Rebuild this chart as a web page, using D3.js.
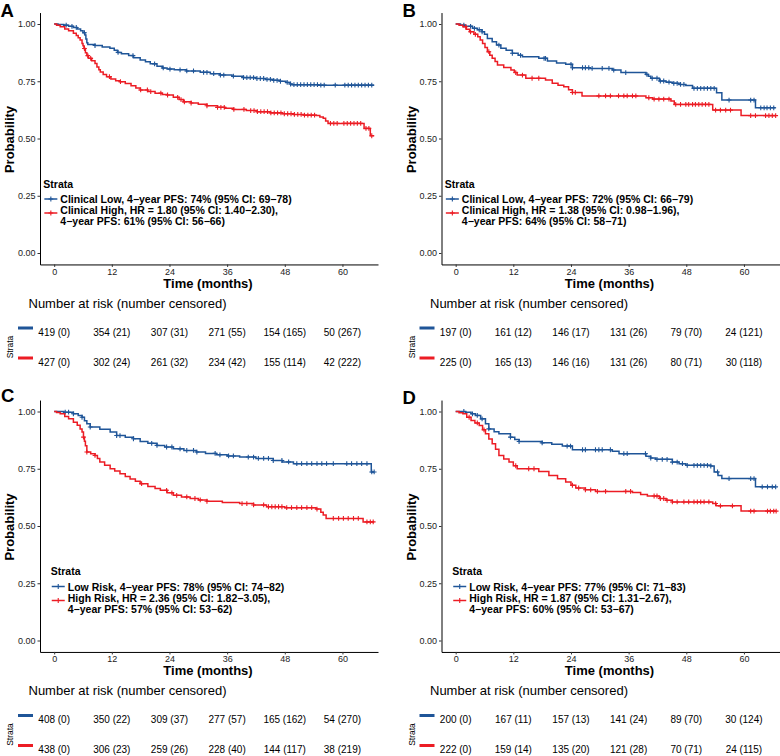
<!DOCTYPE html>
<html><head><meta charset="utf-8">
<script src="https://cdn.jsdelivr.net/npm/d3@7"></script>
<style>
body{margin:0;background:#fff;}
svg{display:block;font-family:"Liberation Sans",Arial,sans-serif;}
</style></head><body>
<svg id="chart" width="780" height="756"></svg>
<script>
const timeBreaks=[0,12,24,36,48,60];
const probBreaks=[0,0.25,0.5,0.75,1];
const panelLetters=["A","B","C","D"];

// ---- Panel A ----
const blueA=[[0,1],[0.8,0.998],[2.0,0.995],[3.0,0.99],[4.0,0.985],[4.8,0.978],[5.5,0.97],[6.0,0.962],[6.4,0.952],[6.6,0.935],[6.8,0.918],[7.0,0.91],[8.5,0.906],[10.0,0.9],[11.6,0.894],[12.5,0.885],[13.2,0.876],[14.0,0.87],[15.5,0.862],[16.5,0.853],[17.9,0.843],[19.0,0.835],[20.0,0.826],[21.4,0.815],[22.5,0.808],[23.5,0.803],[25.0,0.8],[27.5,0.795],[30.4,0.789],[32.5,0.783],[34.5,0.777],[37.0,0.772],[39.4,0.766],[42.0,0.762],[44.0,0.758],[45.6,0.754],[47.0,0.75],[48.2,0.745],[49.1,0.738],[49.5,0.735],[55.0,0.733],[66.6,0.733]];
const redA=[[0,1],[0.5,0.995],[1.25,0.988],[2.2,0.978],[3.0,0.97],[4.0,0.96],[4.6,0.95],[5.0,0.94],[5.4,0.93],[5.8,0.915],[6.0,0.905],[6.2,0.893],[6.5,0.875],[6.8,0.862],[7.1,0.85],[7.8,0.84],[8.5,0.828],[8.9,0.812],[9.3,0.8],[9.6,0.79],[10.2,0.78],[10.9,0.77],[11.8,0.76],[12.8,0.752],[13.7,0.748],[14.8,0.74],[16.0,0.73],[17.0,0.72],[17.9,0.712],[19.5,0.705],[21.0,0.698],[22.5,0.692],[23.5,0.69],[24.8,0.68],[26.0,0.67],[26.9,0.66],[28.5,0.655],[30.0,0.65],[31.8,0.643],[34.0,0.636],[35.5,0.632],[37.3,0.627],[40.0,0.622],[42.2,0.617],[45.0,0.612],[47.5,0.608],[49.8,0.605],[52.0,0.602],[54.6,0.6],[55.3,0.594],[56.0,0.588],[56.5,0.576],[57.0,0.566],[64.5,0.544],[65.8,0.512],[66.6,0.512]];
const censorBlueA=[2.5,3.7,4.6,6.3,8.5,13.3,16.4,20.9,22.7,24.1,26.2,27.6,29.0,31.1,31.8,33.2,34.6,35.3,37.3,39.4,40.1,40.8,41.5,42.2,42.9,43.6,44.3,45.0,45.7,46.4,47.1,48.5,49.2,49.9,50.6,51.3,52.0,52.7,53.4,54.1,54.8,55.5,56.2,58.5,60.5,61.2,61.9,62.6,63.3,64.0,64.7,65.4,66.1];
const censorRedA=[6.3,7.0,7.6,11.5,13.8,18.0,19.4,20.1,22.2,23.6,25.7,26.4,27.1,28.5,31.8,34.0,34.7,35.4,37.4,39.5,40.9,41.6,42.3,43.0,43.7,44.4,45.1,45.8,46.5,47.2,47.9,48.6,49.3,50.0,50.7,51.4,52.1,52.8,53.5,54.2,57.5,58.2,58.9,60.3,61.0,61.7,62.4,63.1,63.8,64.9,65.5,66.1];
const riskBlueA=["419 (0)","354 (21)","307 (31)","271 (55)","154 (165)","50 (267)"];
const riskRedA=["427 (0)","302 (24)","261 (32)","234 (42)","155 (114)","42 (222)"];
const legendA=[["Clinical Low, 4−year PFS: 74% (95% CI: 69−78)"],["Clinical High, HR = 1.80 (95% CI: 1.40−2.30),","4−year PFS: 61% (95% CI: 56−66)"]];

// ---- Panel B ----
const blueB=[[0,1],[1.0,0.995],[2.1,0.99],[3.5,0.981],[4.5,0.975],[5.5,0.966],[6.0,0.955],[6.6,0.937],[7.6,0.923],[8.5,0.908],[9.4,0.894],[10.5,0.885],[11.8,0.872],[13.0,0.863],[13.9,0.857],[17.3,0.85],[19.1,0.838],[21.0,0.83],[22.9,0.824],[24.3,0.809],[28.0,0.806],[32.6,0.799],[34.4,0.788],[39.6,0.78],[40.1,0.772],[40.6,0.763],[42.4,0.751],[43.8,0.746],[45.1,0.741],[46.5,0.736],[47.9,0.731],[49.3,0.719],[54.3,0.7],[55.4,0.668],[62.4,0.634],[66.6,0.634]];
const redB=[[0,1],[0.7,0.995],[1.5,0.988],[2.2,0.977],[2.9,0.966],[3.8,0.955],[4.6,0.944],[5.1,0.93],[5.6,0.915],[6.1,0.897],[6.6,0.879],[7.1,0.864],[7.6,0.85],[8.2,0.836],[8.7,0.821],[10.0,0.81],[11.5,0.799],[12.2,0.788],[12.8,0.777],[14.6,0.763],[18.7,0.755],[20.1,0.741],[21.3,0.733],[22.5,0.726],[23.5,0.713],[24.3,0.701],[26.3,0.686],[39.6,0.678],[41.0,0.672],[44.8,0.664],[45.5,0.649],[53.5,0.624],[59.4,0.6],[66.6,0.6]];
const censorBlueB=[1.7,3.1,3.9,4.9,5.5,9.0,11.8,13.5,18.4,18.7,24.0,24.3,26.4,27.0,27.7,28.4,30.5,31.9,32.9,35.4,39.8,40.9,41.9,42.6,43.3,44.4,45.4,46.1,46.8,47.5,49.6,50.3,51.0,51.7,52.4,53.1,53.8,56.9,61.4,62.1,63.5,64.2,64.8,65.5,66.2];
const censorRedB=[2.1,3.1,4.1,6.9,12.5,13.9,15.9,17.3,24.3,24.9,29.8,31.2,32.2,33.9,35.0,35.7,36.8,37.5,40.2,41.3,42.3,43.3,44.4,45.8,46.8,47.9,48.5,49.3,49.9,50.6,51.3,52.0,52.7,54.1,55.1,56.2,57.2,61.4,62.4,64.5,65.2,65.9,66.6];
const riskBlueB=["197 (0)","161 (12)","146 (17)","131 (26)","79 (70)","24 (121)"];
const riskRedB=["225 (0)","165 (13)","146 (16)","131 (26)","80 (71)","30 (118)"];
const legendB=[["Clinical Low, 4−year PFS: 72% (95% CI: 66−79)"],["Clinical High, HR = 1.38 (95% CI: 0.98−1.96),","4−year PFS: 64% (95% CI: 58−71)"]];

// ---- Panel C ----
const blueC=[[0,1],[2.0,0.997],[4.0,0.99],[5.0,0.982],[5.8,0.975],[6.3,0.96],[6.8,0.946],[7.5,0.932],[9.5,0.922],[11.65,0.91],[13.0,0.895],[14.8,0.888],[16.5,0.881],[17.9,0.869],[19.5,0.861],[21.4,0.852],[23.0,0.845],[24.8,0.837],[27.0,0.83],[29.6,0.823],[31.5,0.817],[33.8,0.811],[36.0,0.806],[38.6,0.801],[42.0,0.795],[45.6,0.786],[47.5,0.78],[49.8,0.772],[66.0,0.736],[66.6,0.736]];
const redC=[[0,1],[0.5,0.996],[1.25,0.99],[2.2,0.978],[3.0,0.968],[4.0,0.953],[4.8,0.94],[5.4,0.924],[5.8,0.91],[6.1,0.888],[6.3,0.87],[6.5,0.85],[6.8,0.823],[7.6,0.815],[8.5,0.808],[9.0,0.795],[9.5,0.779],[10.5,0.765],[11.65,0.75],[12.6,0.74],[13.7,0.728],[14.8,0.716],[15.8,0.705],[16.9,0.695],[17.9,0.685],[19.5,0.673],[21.0,0.664],[22.1,0.656],[23.5,0.645],[24.8,0.634],[26.5,0.627],[28.3,0.62],[30.0,0.614],[31.8,0.608],[35.0,0.603],[38.6,0.598],[41.5,0.592],[44.2,0.584],[48.0,0.58],[54.5,0.574],[55.5,0.56],[56.0,0.548],[56.6,0.533],[64.3,0.518],[66.6,0.518]];
const censorBlueC=[2.3,3.0,4.0,5.8,7.5,13.0,13.7,16.5,20.3,21.4,23.4,24.5,26.2,27.6,29.0,29.7,33.5,34.5,36.3,37.3,40.4,41.5,42.5,43.6,44.6,45.6,47.4,48.8,50.5,51.5,52.6,53.6,54.7,55.7,56.7,58.1,60.9,61.9,63.0,64.0,65.1,66.1,66.6];
const censorRedC=[6.1,6.8,8.5,18.2,23.4,24.5,25.5,27.6,29.3,30.4,31.8,39.1,40.1,41.5,43.6,44.6,45.3,46.0,46.7,47.4,48.4,49.4,50.5,51.5,52.6,53.6,54.7,58.1,59.2,60.2,61.2,62.3,63.3,65.1,65.8,66.4];
const riskBlueC=["408 (0)","350 (22)","309 (37)","277 (57)","165 (162)","54 (270)"];
const riskRedC=["438 (0)","306 (23)","259 (26)","228 (40)","144 (117)","38 (219)"];
const legendC=[["Low Risk, 4−year PFS: 78% (95% CI: 74−82)"],["High Risk, HR = 2.36 (95% CI: 1.82−3.05),","4−year PFS: 57% (95% CI: 53−62)"]];

// ---- Panel D ----
const blueD=[[0,1],[2.1,0.997],[3.2,0.99],[4.1,0.983],[5.2,0.968],[6.2,0.946],[6.9,0.924],[8.0,0.912],[9.0,0.903],[11.4,0.888],[12.3,0.878],[13.2,0.869],[18.0,0.863],[20.0,0.857],[22.2,0.849],[24.3,0.833],[32.6,0.826],[34.0,0.816],[39.6,0.805],[40.6,0.797],[41.6,0.791],[45.1,0.779],[46.5,0.772],[47.9,0.765],[53.1,0.762],[53.8,0.736],[54.6,0.72],[55.4,0.707],[62.4,0.671],[66.6,0.671]];
const redD=[[0,1],[0.7,0.995],[1.5,0.99],[2.3,0.975],[3.2,0.961],[4.0,0.95],[4.9,0.939],[5.6,0.92],[6.2,0.903],[6.9,0.88],[7.6,0.859],[8.3,0.835],[9.0,0.808],[10.0,0.793],[11.1,0.779],[12.0,0.763],[12.8,0.75],[17.3,0.738],[19.4,0.721],[21.2,0.706],[22.9,0.692],[24.0,0.678],[25.0,0.666],[27.0,0.658],[29.1,0.651],[36.8,0.646],[38.5,0.638],[39.9,0.631],[42.4,0.62],[43.8,0.612],[45.1,0.605],[53.5,0.598],[54.2,0.588],[59.4,0.565],[66.6,0.565]];
const censorBlueD=[1.7,3.5,4.5,5.5,6.9,11.4,13.2,18.0,23.2,23.9,26.4,27.0,29.1,29.8,30.5,32.2,35.0,35.7,39.5,40.6,41.9,43.0,44.0,45.1,46.1,47.2,48.2,49.6,50.3,51.0,51.7,52.4,53.1,54.5,56.9,61.4,62.1,63.8,64.9,65.9,66.6];
const censorRedD=[2.8,4.5,5.9,12.5,15.2,16.3,24.3,25.6,27.0,28.1,29.5,31.2,35.4,36.4,41.3,41.9,42.6,43.3,44.0,45.1,46.1,47.5,48.5,49.6,50.3,51.0,51.7,52.7,54.1,55.1,57.6,61.4,62.1,64.9,65.5,66.2,66.7];
const riskBlueD=["200 (0)","167 (11)","157 (13)","141 (24)","89 (70)","30 (124)"];
const riskRedD=["222 (0)","159 (14)","135 (20)","121 (28)","70 (71)","24 (115)"];
const legendD=[["Low Risk, 4−year PFS: 77% (95% CI: 71−83)"],["High Risk, HR = 1.87 (95% CI: 1.31−2.67),","4−year PFS: 60% (95% CI: 53−67)"]];

const colLow="#1F5598", colHigh="#EC1C24";

const panels=[
  {letter:panelLetters[0],L:40,Y1:24,lx:0.5,ly:17,blue:blueA,red:redA,cb:censorBlueA,cr:censorRedA,rb:riskBlueA,rr:riskRedA,leg:legendA},
  {letter:panelLetters[1],L:441.5,Y1:24,lx:402.5,ly:17,blue:blueB,red:redB,cb:censorBlueB,cr:censorRedB,rb:riskBlueB,rr:riskRedB,leg:legendB},
  {letter:panelLetters[2],L:40,Y1:411.5,lx:1,ly:402,blue:blueC,red:redC,cb:censorBlueC,cr:censorRedC,rb:riskBlueC,rr:riskRedC,leg:legendC},
  {letter:panelLetters[3],L:441.5,Y1:411.5,lx:402.5,ly:404,blue:blueD,red:redD,cb:censorBlueD,cr:censorRedD,rb:riskBlueD,rr:riskRedD,leg:legendD}
];

const svg=d3.select("#chart");
function stepAt(arr,t){let v=arr[0][1];for(const d of arr){if(d[0]<=t)v=d[1];else break;}return v;}
const plusPath="M-2.4,0H2.4M0,-2.4V2.4";

panels.forEach((P,i)=>{
  const x=d3.scaleLinear().domain([-2.95,67.4]).range([P.L,P.L+338]);
  const y=d3.scaleLinear().domain([0,1]).range([P.Y1+229,P.Y1]);
  const g=svg.append("g");
  const cid="clip"+i;
  g.append("clipPath").attr("id",cid).append("rect")
    .attr("x",P.L).attr("y",y(1.05)).attr("width",338).attr("height",y(-0.05)-y(1.05));
  const ya=g.append("g").attr("transform",`translate(${P.L},0)`)
    .call(d3.axisLeft(y.copy().domain([-0.05,1.05]).range([y(-0.05),y(1.05)])).tickValues(probBreaks).tickFormat(d3.format(".2f")).tickSize(2.5).tickSizeOuter(0).tickPadding(2));
  const xa=g.append("g").attr("transform",`translate(0,${y(-0.05)})`)
    .call(d3.axisBottom(x).tickValues(timeBreaks).tickSize(2.5).tickSizeOuter(0).tickPadding(1.5));
  [ya,xa].forEach(a=>{
    a.selectAll("text").attr("font-size",9).attr("fill","#222").attr("font-family","Liberation Sans, Arial, sans-serif");
    a.select(".domain").attr("stroke","#000").attr("stroke-width",1);
    a.selectAll(".tick line").attr("stroke","#333");
  });
  g.append("text").attr("transform",`translate(${P.L-30.5},${P.Y1+115.5}) rotate(-90)`)
    .attr("text-anchor","middle").attr("dominant-baseline","central")
    .attr("font-size",13).attr("font-weight","bold").text("Probability");
  g.append("text").attr("x",P.L+168).attr("y",P.Y1+259).attr("text-anchor","middle").attr("dominant-baseline","central")
    .attr("font-size",13).attr("font-weight","bold").text("Time (months)");
  g.append("text").attr("x",P.lx).attr("y",P.ly).attr("font-size",18.5).attr("font-weight","bold").text(P.letter);
  const cg=g.append("g").attr("clip-path",`url(#${cid})`);
  const line=d3.line().x(d=>x(d[0])).y(d=>y(d[1])).curve(d3.curveStepAfter);
  [[P.blue,P.cb,colLow],[P.red,P.cr,colHigh]].forEach(([s,c,col])=>{
    cg.append("path").datum(s).attr("d",line).attr("fill","none").attr("stroke",col).attr("stroke-width",1.5);
    cg.selectAll(null).data(c).enter().append("path")
      .attr("transform",t=>`translate(${x(t)},${y(stepAt(s,t))})`)
      .attr("d",plusPath).attr("stroke",col).attr("stroke-width",1.1).attr("fill","none");
  });
  const lg=g.append("g").attr("font-size",10.5).attr("font-weight","bold");
  lg.append("text").attr("x",0).attr("y",P.Y1+159.5).attr("dominant-baseline","central").text("Strata");
  const keyY=[P.Y1+175,P.Y1+189];
  const lineY=[[P.Y1+175],[P.Y1+186,P.Y1+197]];
  [colLow,colHigh].forEach((col,k)=>{
    lg.append("line").attr("x1",1).attr("x2",14).attr("y1",keyY[k]).attr("y2",keyY[k]).attr("stroke",col).attr("stroke-width",1.5);
    lg.append("path").attr("transform",`translate(7.5,${keyY[k]})`).attr("d",plusPath).attr("stroke",col).attr("stroke-width",1.1);
    P.leg[k].forEach((txt,j)=>{
      lg.append("text").attr("x",17).attr("y",lineY[k][j]).attr("dominant-baseline","central").text(txt);
    });
  });
  const bb=lg.node().getBBox();
  lg.attr("transform",`translate(${P.L+127.5-bb.width/2},0)`);
  const rg=g.append("g");
  rg.append("text").attr("x",P.L-11.5).attr("y",P.Y1+279).attr("dominant-baseline","central").attr("font-size",13).text("Number at risk (number censored)");
  rg.append("text").attr("transform",`translate(${P.L-30},${P.Y1+323}) rotate(-90)`).attr("text-anchor","middle").attr("dominant-baseline","central").attr("font-size",8.5).text("Strata");
  [[P.rb,colLow,P.Y1+308],[P.rr,colHigh,P.Y1+338]].forEach(([vals,col,ry])=>{
    rg.append("rect").attr("x",P.L-22).attr("y",ry-5.5).attr("width",15).attr("height",3).attr("fill",col);
    rg.selectAll(null).data(timeBreaks).enter().append("text")
      .attr("x",t=>x(t)).attr("y",ry).attr("text-anchor","middle").attr("dominant-baseline","central")
      .attr("font-size",10).text((t,j)=>vals[j]);
  });
});
</script>
</body></html>
